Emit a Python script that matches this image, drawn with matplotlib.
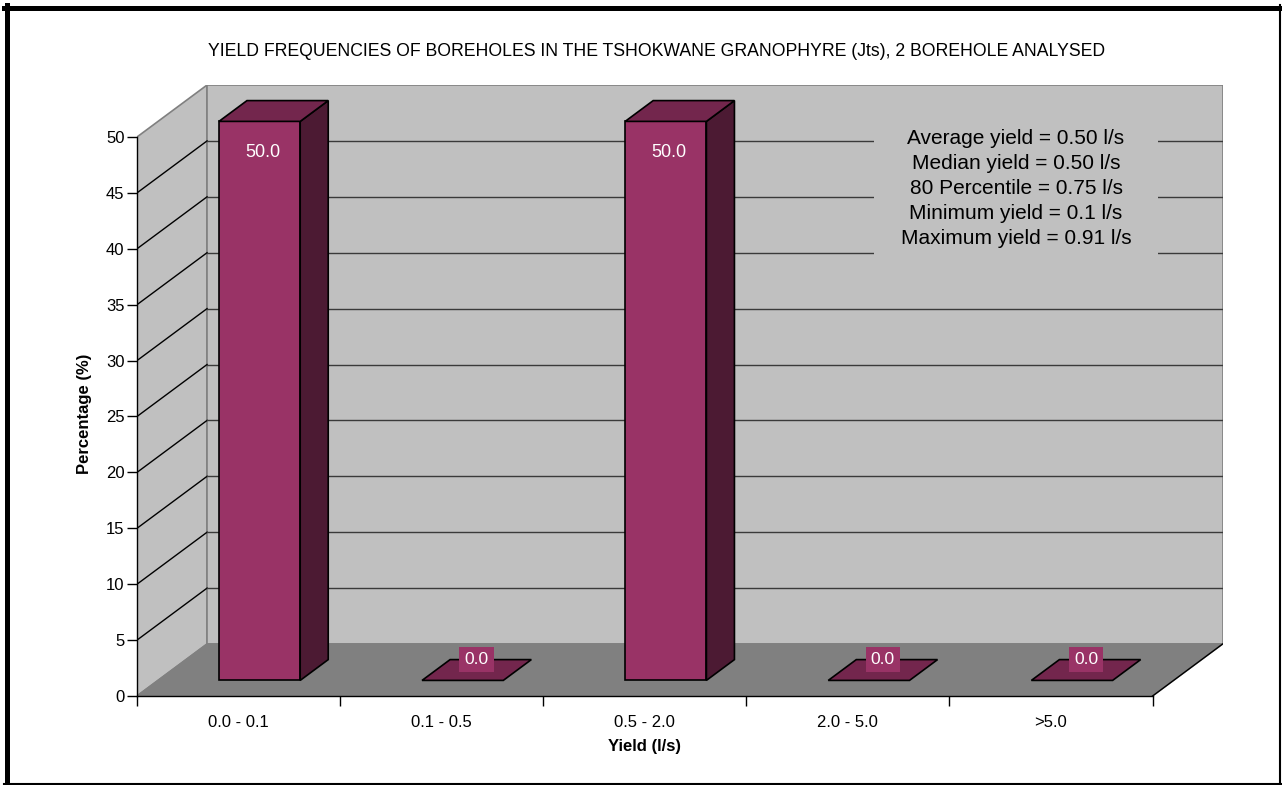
import matplotlib
matplotlib.use('Agg')
import matplotlib.pyplot as plt
from matplotlib.patches import Polygon
from matplotlib.lines import Line2D

# ---- data ----
categories = ['0.0 - 0.1', '0.1 - 0.5', '0.5 - 2.0', '2.0 - 5.0', '>5.0']
percentages = [50.0, 0.0, 50.0, 0.0, 0.0]
y_ticks = [0, 5, 10, 15, 20, 25, 30, 35, 40, 45, 50]
stats_lines = [
    'Average yield = 0.50 l/s',
    'Median yield = 0.50 l/s',
    '80 Percentile = 0.75 l/s',
    'Minimum yield = 0.1 l/s',
    'Maximum yield = 0.91 l/s',
]
title = 'YIELD FREQUENCIES OF BOREHOLES IN THE TSHOKWANE GRANOPHYRE (Jts), 2 BOREHOLE ANALYSED'
x_label = 'Yield (l/s)'
y_label = 'Percentage (%)'

# ---- style ----
plt.rcParams['font.family'] = ['Liberation Sans', 'DejaVu Sans']
FRONT = '#993366'
TOP = '#73264D'
SIDE = '#4C1A33'
WALL = '#C0C0C0'
FLOOR = '#808080'
EDGE = '#808080'

W, H = 1282, 785
fig = plt.figure(figsize=(W / 100, H / 100), dpi=100)
fig.patch.set_facecolor('white')

n = len(categories)
ymax = max(y_ticks)
DX = 0.345   # depth shift along the category axis
DY = 4.65    # depth shift along the value axis
BAR_W = 0.4  # bar width (category units)
D0, D1 = 0.3, 0.7  # bar depth extent

left_px, right_px = 137, 1222.6
bottom_px, top_px = 696, 85
ax = fig.add_axes([left_px / W, 1 - bottom_px / H,
                   (right_px - left_px) / W, (bottom_px - top_px) / H])
ax.set_xlim(0, n + DX)
ax.set_ylim(0, ymax + DY)
ax.patch.set_alpha(0)


def proj(c, v, d):
    return (c + d * DX, v + d * DY)


def poly(pts, fc, ec, lw=1.0, z=1):
    ax.add_patch(Polygon(pts, closed=True, facecolor=fc, edgecolor=ec,
                         linewidth=lw, zorder=z, joinstyle='miter'))


# walls and floor
poly([proj(0, 0, 0), proj(0, ymax, 0), proj(0, ymax, 1), proj(0, 0, 1)], WALL, EDGE, 1.2, 0)
poly([proj(0, 0, 1), proj(n, 0, 1), proj(n, ymax, 1), proj(0, ymax, 1)], WALL, EDGE, 1.2, 0)
poly([proj(0, 0, 0), proj(n, 0, 0), proj(n, 0, 1), proj(0, 0, 1)], FLOOR, EDGE, 1.2, 0)
ax.plot(*zip(proj(n, 0, 0), proj(n, 0, 1)), color='black', lw=1.0, zorder=1)

# gridlines on side and back walls
for v in y_ticks[1:-1]:
    ax.plot(*zip(proj(0, v, 0), proj(0, v, 1)), color='black', lw=1.0, zorder=1)
    ax.plot(*zip(proj(0, v, 1), proj(n, v, 1)), color='#3a3a3a', lw=1.0, zorder=1)

# bars
for i, val in enumerate(percentages):
    c0 = i + 0.5 - BAR_W / 2
    c1 = i + 0.5 + BAR_W / 2
    if val > 0:
        poly([proj(c0, 0, D0), proj(c1, 0, D0), proj(c1, val, D0), proj(c0, val, D0)], FRONT, 'black', 1.2, 3)
        poly([proj(c1, 0, D0), proj(c1, 0, D1), proj(c1, val, D1), proj(c1, val, D0)], SIDE, 'black', 1.2, 3)
    poly([proj(c0, val, D0), proj(c1, val, D0), proj(c1, val, D1), proj(c0, val, D1)], TOP, 'black', 1.2, 3)

    label = f'{val:.1f}'
    if val > 0:
        ax.annotate(label, xy=proj(i + 0.5, val, D0), xytext=(2.5, -22.5), textcoords='offset points',
                    ha='center', va='center', color='white', fontsize=13, zorder=5)
    else:
        ax.annotate(label, xy=proj(i + 0.5, val, 0.5), xytext=(0, 7.5), textcoords='offset points',
                    ha='center', va='center', color='white', fontsize=12.5, zorder=5,
                    bbox=dict(boxstyle='square,pad=0.3', facecolor=FRONT, edgecolor='none'))

# axes, ticks and labels
for s in ('top', 'right'):
    ax.spines[s].set_visible(False)
ax.spines['left'].set_bounds(0, ymax)
ax.spines['bottom'].set_bounds(0, n)
for s in ('left', 'bottom'):
    ax.spines[s].set_color('black')
    ax.spines[s].set_linewidth(1.0)
    ax.spines[s].set_zorder(6)

ax.set_yticks(y_ticks)
ax.set_yticklabels([str(t) for t in y_ticks])
ax.tick_params(axis='y', direction='out', length=7, width=1.0, pad=2, labelsize=12, colors='black')

ax.set_xticks(range(n + 1))
ax.set_xticklabels([''] * (n + 1))
ax.set_xticks([i + 0.5 for i in range(n)], minor=True)
ax.set_xticklabels(categories, minor=True)
ax.tick_params(axis='x', which='major', direction='out', length=7.5, width=1.0)
ax.tick_params(axis='x', which='minor', length=0, pad=14, labelsize=12)

fig.text(85 / W, 1 - 414 / H, y_label, rotation=90, ha='center', va='center',
         fontsize=12, fontweight='bold')
fig.text(645 / W, 1 - 746 / H, x_label, ha='center', va='center',
         fontsize=12, fontweight='bold')
fig.text(657 / W, 1 - 51 / H, title, ha='center', va='center', fontsize=12.7)

fig.text(1016 / W, 1 - 188.5 / H, '\n'.join(stats_lines), ha='center', va='center',
         fontsize=15, linespacing=1.4, multialignment='center', zorder=7,
         bbox=dict(boxstyle='square,pad=1.3', facecolor=WALL, edgecolor='none'))

# outer frame
fig.add_artist(Line2D([6.5 / W, 6.5 / W], [0, 1 - 5 / H], color='black', lw=3.6, transform=fig.transFigure))
fig.add_artist(Line2D([4 / W, 1282 / W], [1 - 7.5 / H, 1 - 7.5 / H], color='black', lw=3.6, transform=fig.transFigure))
fig.add_artist(Line2D([1280 / W, 1280 / W], [0, 1 - 5 / H], color='black', lw=1.5, transform=fig.transFigure))
fig.add_artist(Line2D([4 / W, 1282 / W], [1 / H, 1 / H], color='black', lw=1.5, transform=fig.transFigure))

fig.savefig('out.png', dpi=100)
